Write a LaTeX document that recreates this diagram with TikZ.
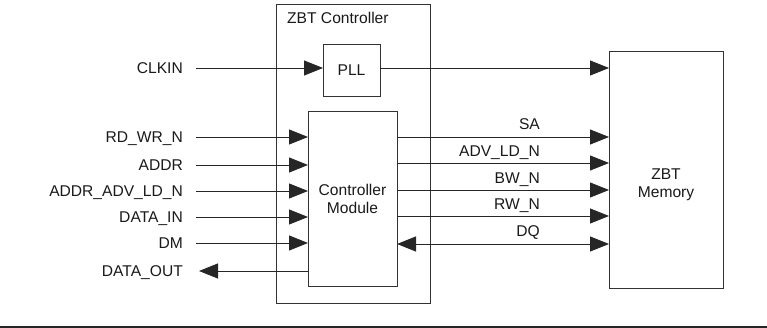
\documentclass[tikz,border=0pt]{standalone}
\usepackage{fontspec}
\setmainfont{Liberation Sans}
\usetikzlibrary{arrows.meta}
\begin{document}
\begin{tikzpicture}[x=1pt,y=-1pt,
  every node/.style={font=\fontsize{15.6}{18}\selectfont, text=black!90},
  box/.style={draw=black!80, line width=0.9pt, inner sep=0pt, outer sep=0pt, align=center},
  sig/.style={draw=black!85, line width=0.9pt, -{Triangle[length=19pt,width=15pt]}},
  bisig/.style={draw=black!85, line width=0.9pt, {Triangle[length=19pt,width=15pt]}-{Triangle[length=19pt,width=15pt]}},
  lbl/.style={anchor=base east, inner sep=0pt}]
\useasboundingbox (0,0) rectangle (767,328);
% boxes
\node[box, minimum width=154pt, minimum height=299pt] (ctrl) at (353,153.5) {};
\node[anchor=base west, inner sep=0pt] (ctrltitle) at (287,24) {ZBT Controller};
\node[box, minimum width=57pt, minimum height=52pt] (pll) at (351.5,70) {PLL};
\node[box, minimum width=89pt, minimum height=175pt] (mod) at (352.5,198.5) {Controller\\Module};
\node[box, minimum width=114pt, minimum height=237pt] (mem) at (666,169.5) {};
\node[align=center, inner sep=0pt] (memlabel) at (666,185) {ZBT\\Memory};
% left labels
\node[lbl] (lclk) at (183,73.6) {CLKIN};
\node[lbl] (lrd) at (183,142.6) {RD\_WR\_N};
\node[lbl] (laddr) at (183,170.6) {ADDR};
\node[lbl] (lav) at (183,196.6) {ADDR\_ADV\_LD\_N};
\node[lbl] (ldin) at (183,222.6) {DATA\_IN};
\node[lbl] (ldm) at (183,248.6) {DM};
\node[lbl] (ldout) at (183,276.6) {DATA\_OUT};
% input line starts
\coordinate (sclk) at (196,68);
\coordinate (srd) at (196,137);
\coordinate (saddr) at (196,165);
\coordinate (sav) at (196,191);
\coordinate (sdin) at (196,217);
\coordinate (sdm) at (196,243);
\coordinate (edout) at (199,271);
\draw[sig] (sclk) -- (pll.west |- sclk);
\draw[sig] (srd) -- (mod.west |- srd);
\draw[sig] (saddr) -- (mod.west |- saddr);
\draw[sig] (sav) -- (mod.west |- sav);
\draw[sig] (sdin) -- (mod.west |- sdin);
\draw[sig] (sdm) -- (mod.west |- sdm);
\draw[sig] (mod.west |- edout) -- (edout);
% outputs
\draw[sig] (pll.east |- sclk) -- (mem.west |- sclk);
\coordinate (ysa) at (0,137);
\coordinate (yadv) at (0,163);
\coordinate (ybw) at (0,190);
\coordinate (yrw) at (0,216);
\coordinate (ydq) at (0,244);
\draw[sig] (mod.east |- ysa) -- (mem.west |- ysa);
\draw[sig] (mod.east |- yadv) -- (mem.west |- yadv);
\draw[sig] (mod.east |- ybw) -- (mem.west |- ybw);
\draw[sig] (mod.east |- yrw) -- (mem.west |- yrw);
\draw[bisig] (mod.east |- ydq) -- (mem.west |- ydq);
\node[lbl] (lsa) at (540,130) {SA};
\node[lbl] (ladv) at (540,157) {ADV\_LD\_N};
\node[lbl] (lbw) at (540,183.5) {BW\_N};
\node[lbl] (lrw) at (540,210) {RW\_N};
\node[lbl] (ldq) at (540,236.5) {DQ};
% bottom rule
\coordinate (rl) at (0,327);
\coordinate (rr) at (767,327);
\draw[black!85, line width=1.2pt] (rl) -- (rr);
\end{tikzpicture}
\end{document}
